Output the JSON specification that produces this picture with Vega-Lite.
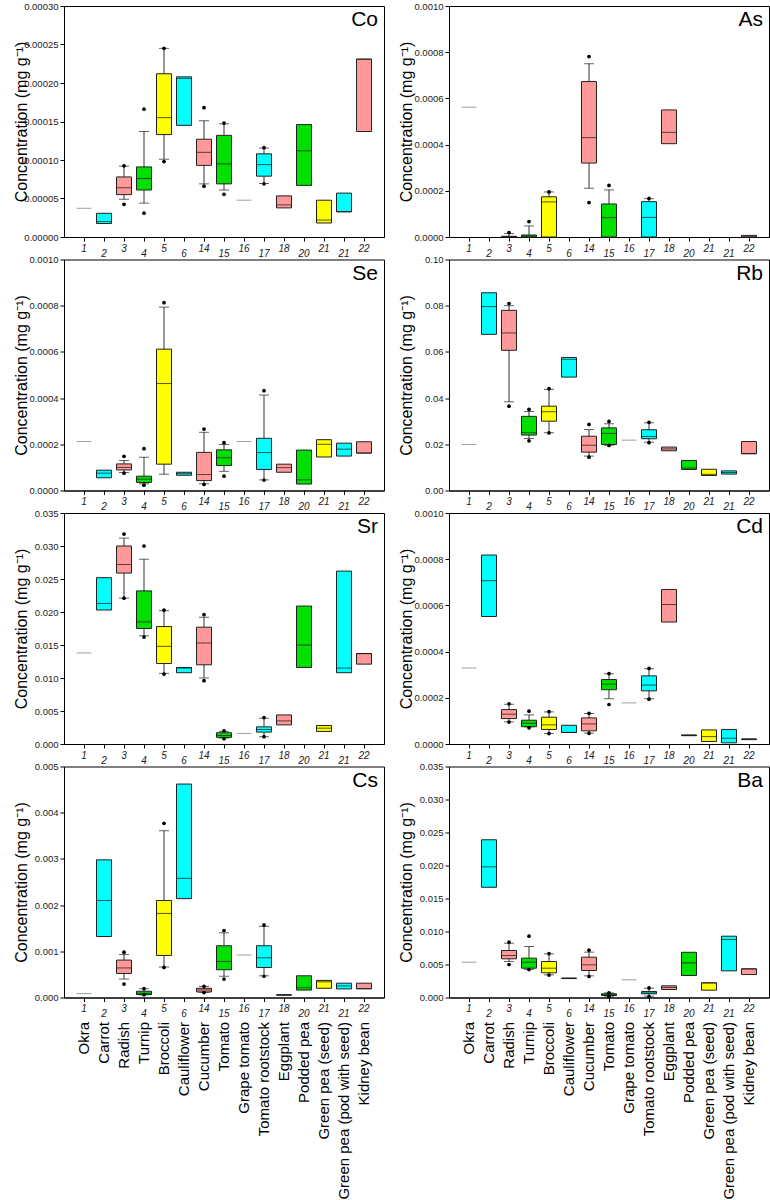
{
"$schema": "https://vega.github.io/schema/vega-lite/v6.json",
"padding": {"left": 12, "top": 0, "right": 0, "bottom": 0},
"datasets": {
"box": [
{"e":"Co","k":1,"g":"s","lo":0.0000373,"q1":0.0000373,"md":0.0000373,"q3":0.0000373,"hi":0.0000373},
{"e":"Co","k":2,"g":"c","lo":0.0000175,"q1":0.0000175,"md":0.00002,"q3":0.0000308,"hi":0.0000308},
{"e":"Co","k":3,"g":"p","lo":0.000049,"q1":0.000055,"md":0.000064,"q3":0.000078,"hi":0.000092},
{"e":"Co","k":4,"g":"g","lo":0.000044,"q1":0.000061,"md":0.000076,"q3":0.000091,"hi":0.000137},
{"e":"Co","k":5,"g":"y","lo":0.000101,"q1":0.000133,"md":0.000155,"q3":0.000212,"hi":0.000245},
{"e":"Co","k":6,"g":"c","lo":0.000145,"q1":0.000145,"md":0.000206,"q3":0.000208,"hi":0.000208},
{"e":"Co","k":7,"g":"p","lo":0.000069,"q1":0.000093,"md":0.00011,"q3":0.000127,"hi":0.000151},
{"e":"Co","k":8,"g":"g","lo":0.000061,"q1":0.000069,"md":0.000095,"q3":0.000132,"hi":0.000147},
{"e":"Co","k":9,"g":"s","lo":0.0000478,"q1":0.0000478,"md":0.0000478,"q3":0.0000478,"hi":0.0000478},
{"e":"Co","k":10,"g":"c","lo":0.0000695,"q1":0.000079,"md":0.000094,"q3":0.000108,"hi":0.0001155},
{"e":"Co","k":11,"g":"p","lo":0.0000378,"q1":0.0000378,"md":0.0000417,"q3":0.0000534,"hi":0.0000534},
{"e":"Co","k":12,"g":"g","lo":0.000067,"q1":0.000067,"md":0.000112,"q3":0.000146,"hi":0.000146},
{"e":"Co","k":13,"g":"y","lo":0.0000182,"q1":0.0000182,"md":0.000022,"q3":0.0000478,"hi":0.0000478},
{"e":"Co","k":14,"g":"c","lo":0.0000326,"q1":0.0000326,"md":0.000033,"q3":0.000057,"hi":0.000057},
{"e":"Co","k":15,"g":"p","lo":0.000137,"q1":0.000137,"md":0.000231,"q3":0.000231,"hi":0.000231},

{"e":"As","k":1,"g":"s","lo":0.000562,"q1":0.000562,"md":0.000562,"q3":0.000562,"hi":0.000562},
{"e":"As","k":3,"g":"p","lo":0,"q1":0,"md":0,"q3":0.000003,"hi":0.000015},
{"e":"As","k":4,"g":"g","lo":0,"q1":0,"md":0.000004,"q3":0.0000087,"hi":0.000048},
{"e":"As","k":5,"g":"y","lo":0,"q1":0,"md":0.000152,"q3":0.000174,"hi":0.000195},
{"e":"As","k":7,"g":"p","lo":0.000211,"q1":0.00032,"md":0.00043,"q3":0.000673,"hi":0.00075},
{"e":"As","k":8,"g":"g","lo":0,"q1":0,"md":0.000084,"q3":0.000143,"hi":0.000204},
{"e":"As","k":10,"g":"c","lo":0,"q1":0,"md":0.000085,"q3":0.000153,"hi":0.000166},
{"e":"As","k":11,"g":"p","lo":0.000404,"q1":0.000404,"md":0.000453,"q3":0.00055,"hi":0.00055},
{"e":"As","k":15,"g":"p","lo":0,"q1":0,"md":0,"q3":0.000007,"hi":0.000007},

{"e":"Se","k":1,"g":"s","lo":0.000212,"q1":0.000212,"md":0.000212,"q3":0.000212,"hi":0.000212},
{"e":"Se","k":2,"g":"c","lo":0.000055,"q1":0.000055,"md":0.000075,"q3":0.000088,"hi":0.000088},
{"e":"Se","k":3,"g":"p","lo":0.000078,"q1":0.000089,"md":0.0001,"q3":0.000115,"hi":0.00013},
{"e":"Se","k":4,"g":"g","lo":0.000029,"q1":0.000035,"md":0.000049,"q3":0.000062,"hi":0.000144},
{"e":"Se","k":5,"g":"y","lo":0.0000705,"q1":0.000114,"md":0.000463,"q3":0.000612,"hi":0.000794},
{"e":"Se","k":6,"g":"c","lo":0.000066,"q1":0.000066,"md":0.000073,"q3":0.000079,"hi":0.000079},
{"e":"Se","k":7,"g":"p","lo":0.000029,"q1":0.000043,"md":0.000069,"q3":0.000165,"hi":0.000252},
{"e":"Se","k":8,"g":"g","lo":0.000083,"q1":0.000108,"md":0.000142,"q3":0.000176,"hi":0.000199},
{"e":"Se","k":9,"g":"s","lo":0.000212,"q1":0.000212,"md":0.000212,"q3":0.000212,"hi":0.000212},
{"e":"Se","k":10,"g":"c","lo":0.000046,"q1":0.000091,"md":0.000164,"q3":0.000226,"hi":0.000413},
{"e":"Se","k":11,"g":"p","lo":0.000079,"q1":0.000079,"md":0.000099,"q3":0.000114,"hi":0.000114},
{"e":"Se","k":12,"g":"g","lo":0.000028,"q1":0.000028,"md":0.000046,"q3":0.000175,"hi":0.000175},
{"e":"Se","k":13,"g":"y","lo":0.000145,"q1":0.000145,"md":0.0002,"q3":0.00022,"hi":0.00022},
{"e":"Se","k":14,"g":"c","lo":0.000149,"q1":0.000149,"md":0.000179,"q3":0.000205,"hi":0.000205},
{"e":"Se","k":15,"g":"p","lo":0.000162,"q1":0.000162,"md":0.000162,"q3":0.000211,"hi":0.000211},

{"e":"Rb","k":1,"g":"s","lo":0.0199,"q1":0.0199,"md":0.0199,"q3":0.0199,"hi":0.0199},
{"e":"Rb","k":2,"g":"c","lo":0.0676,"q1":0.0676,"md":0.0796,"q3":0.0856,"hi":0.0856},
{"e":"Rb","k":3,"g":"p","lo":0.0384,"q1":0.0607,"md":0.0682,"q3":0.078,"hi":0.08},
{"e":"Rb","k":4,"g":"g","lo":0.0225,"q1":0.024,"md":0.025,"q3":0.0321,"hi":0.0342},
{"e":"Rb","k":5,"g":"y","lo":0.025,"q1":0.03,"md":0.0341,"q3":0.0365,"hi":0.0438},
{"e":"Rb","k":6,"g":"c","lo":0.0491,"q1":0.0491,"md":0.0568,"q3":0.0576,"hi":0.0576},
{"e":"Rb","k":7,"g":"p","lo":0.0149,"q1":0.0166,"md":0.0196,"q3":0.0235,"hi":0.0264},
{"e":"Rb","k":8,"g":"g","lo":0.0196,"q1":0.0199,"md":0.0247,"q3":0.0271,"hi":0.0289},
{"e":"Rb","k":9,"g":"s","lo":0.0218,"q1":0.0218,"md":0.0218,"q3":0.0218,"hi":0.0218},
{"e":"Rb","k":10,"g":"c","lo":0.0209,"q1":0.0224,"md":0.0234,"q3":0.0263,"hi":0.0293},
{"e":"Rb","k":11,"g":"p","lo":0.0172,"q1":0.0172,"md":0.018,"q3":0.0188,"hi":0.0188},
{"e":"Rb","k":12,"g":"g","lo":0.0091,"q1":0.0091,"md":0.0097,"q3":0.013,"hi":0.013},
{"e":"Rb","k":13,"g":"y","lo":0.0065,"q1":0.0065,"md":0.007,"q3":0.0092,"hi":0.0092},
{"e":"Rb","k":14,"g":"c","lo":0.0071,"q1":0.0071,"md":0.0078,"q3":0.0085,"hi":0.0085},
{"e":"Rb","k":15,"g":"p","lo":0.0159,"q1":0.0159,"md":0.016,"q3":0.0212,"hi":0.0212},

{"e":"Sr","k":1,"g":"s","lo":0.0138,"q1":0.0138,"md":0.0138,"q3":0.0138,"hi":0.0138},
{"e":"Sr","k":2,"g":"c","lo":0.0203,"q1":0.0203,"md":0.0213,"q3":0.0252,"hi":0.0252},
{"e":"Sr","k":3,"g":"p","lo":0.0221,"q1":0.0259,"md":0.0272,"q3":0.03,"hi":0.0312},
{"e":"Sr","k":4,"g":"g","lo":0.0164,"q1":0.0175,"md":0.0185,"q3":0.0232,"hi":0.028},
{"e":"Sr","k":5,"g":"y","lo":0.0107,"q1":0.0122,"md":0.0148,"q3":0.0178,"hi":0.0202},
{"e":"Sr","k":6,"g":"c","lo":0.0108,"q1":0.0108,"md":0.0115,"q3":0.0116,"hi":0.0116},
{"e":"Sr","k":7,"g":"p","lo":0.01,"q1":0.012,"md":0.0153,"q3":0.0177,"hi":0.0192},
{"e":"Sr","k":8,"g":"g","lo":0.0009,"q1":0.001,"md":0.0013,"q3":0.0017,"hi":0.0019},
{"e":"Sr","k":9,"g":"s","lo":0.0016,"q1":0.0016,"md":0.0016,"q3":0.0016,"hi":0.0016},
{"e":"Sr","k":10,"g":"c","lo":0.0011,"q1":0.0018,"md":0.0022,"q3":0.0026,"hi":0.0039},
{"e":"Sr","k":11,"g":"p","lo":0.0029,"q1":0.0029,"md":0.0035,"q3":0.0044,"hi":0.0044},
{"e":"Sr","k":12,"g":"g","lo":0.0116,"q1":0.0116,"md":0.015,"q3":0.0209,"hi":0.0209},
{"e":"Sr","k":13,"g":"y","lo":0.0019,"q1":0.0019,"md":0.0024,"q3":0.0028,"hi":0.0028},
{"e":"Sr","k":14,"g":"c","lo":0.0108,"q1":0.0108,"md":0.0115,"q3":0.0262,"hi":0.0262},
{"e":"Sr","k":15,"g":"p","lo":0.0121,"q1":0.0121,"md":0.0137,"q3":0.0137,"hi":0.0137},

{"e":"Cd","k":1,"g":"s","lo":0.000329,"q1":0.000329,"md":0.000329,"q3":0.000329,"hi":0.000329},
{"e":"Cd","k":2,"g":"c","lo":0.000552,"q1":0.000552,"md":0.000707,"q3":0.000818,"hi":0.000818},
{"e":"Cd","k":3,"g":"p","lo":0.000096,"q1":0.00011,"md":0.000129,"q3":0.000149,"hi":0.000172},
{"e":"Cd","k":4,"g":"g","lo":0.000074,"q1":0.000075,"md":0.00009,"q3":0.000103,"hi":0.000126},
{"e":"Cd","k":5,"g":"y","lo":0.000045,"q1":0.000063,"md":0.000083,"q3":0.000116,"hi":0.000139},
{"e":"Cd","k":6,"g":"c","lo":0.00005,"q1":0.00005,"md":0.00005,"q3":0.000081,"hi":0.000081},
{"e":"Cd","k":7,"g":"p","lo":0.000047,"q1":0.000057,"md":0.000087,"q3":0.000113,"hi":0.000132},
{"e":"Cd","k":8,"g":"g","lo":0.000196,"q1":0.000235,"md":0.000259,"q3":0.000279,"hi":0.000304},
{"e":"Cd","k":9,"g":"s","lo":0.000178,"q1":0.000178,"md":0.000178,"q3":0.000178,"hi":0.000178},
{"e":"Cd","k":10,"g":"c","lo":0.000196,"q1":0.00023,"md":0.000255,"q3":0.000295,"hi":0.000326},
{"e":"Cd","k":11,"g":"p","lo":0.000528,"q1":0.000528,"md":0.000604,"q3":0.000669,"hi":0.000669},
{"e":"Cd","k":12,"g":"g","lo":0.000036,"q1":0.000036,"md":0.000038,"q3":0.000039,"hi":0.000039},
{"e":"Cd","k":13,"g":"y","lo":0.000011,"q1":0.000011,"md":0.000032,"q3":0.000061,"hi":0.000061},
{"e":"Cd","k":14,"g":"c","lo":0.000005,"q1":0.000005,"md":0.000025,"q3":0.000063,"hi":0.000063},
{"e":"Cd","k":15,"g":"p","lo":0.000019,"q1":0.000019,"md":0.000021,"q3":0.000022,"hi":0.000022},

{"e":"Cs","k":1,"g":"s","lo":0.000085,"q1":0.000085,"md":0.000085,"q3":0.000085,"hi":0.000085},
{"e":"Cs","k":2,"g":"c","lo":0.00132,"q1":0.00132,"md":0.0021,"q3":0.00298,"hi":0.00298},
{"e":"Cs","k":3,"g":"p","lo":0.0004,"q1":0.00052,"md":0.00064,"q3":0.00081,"hi":0.00093},
{"e":"Cs","k":4,"g":"g","lo":0.00006,"q1":0.000063,"md":0.000092,"q3":0.000135,"hi":0.00019},
{"e":"Cs","k":5,"g":"y","lo":0.00066,"q1":0.00091,"md":0.00182,"q3":0.0021,"hi":0.00361},
{"e":"Cs","k":6,"g":"c","lo":0.00214,"q1":0.00214,"md":0.00258,"q3":0.00462,"hi":0.00462},
{"e":"Cs","k":7,"g":"p","lo":0.00011,"q1":0.00012,"md":0.000164,"q3":0.0002,"hi":0.00024},
{"e":"Cs","k":8,"g":"g","lo":0.00046,"q1":0.0006,"md":0.00078,"q3":0.00112,"hi":0.0014},
{"e":"Cs","k":9,"g":"s","lo":0.00092,"q1":0.00092,"md":0.00092,"q3":0.00092,"hi":0.00092},
{"e":"Cs","k":10,"g":"c","lo":0.00047,"q1":0.00065,"md":0.00086,"q3":0.00112,"hi":0.00154},
{"e":"Cs","k":11,"g":"p","lo":0.00005,"q1":0.00005,"md":0.000055,"q3":0.00006,"hi":0.00006},
{"e":"Cs","k":12,"g":"g","lo":0.00016,"q1":0.00016,"md":0.00021,"q3":0.00047,"hi":0.00047},
{"e":"Cs","k":13,"g":"y","lo":0.0002,"q1":0.0002,"md":0.00034,"q3":0.00037,"hi":0.00037},
{"e":"Cs","k":14,"g":"c","lo":0.000186,"q1":0.000186,"md":0.00025,"q3":0.00031,"hi":0.00031},
{"e":"Cs","k":15,"g":"p","lo":0.00019,"q1":0.00019,"md":0.00019,"q3":0.00031,"hi":0.00031},

{"e":"Ba","k":1,"g":"s","lo":0.00535,"q1":0.00535,"md":0.00535,"q3":0.00535,"hi":0.00535},
{"e":"Ba","k":2,"g":"c","lo":0.0167,"q1":0.0167,"md":0.0198,"q3":0.0239,"hi":0.0239},
{"e":"Ba","k":3,"g":"p","lo":0.00545,"q1":0.00586,"md":0.00636,"q3":0.00712,"hi":0.00823},
{"e":"Ba","k":4,"g":"g","lo":0.00424,"q1":0.00444,"md":0.00535,"q3":0.00596,"hi":0.00773},
{"e":"Ba","k":5,"g":"y","lo":0.00343,"q1":0.00374,"md":0.00444,"q3":0.00545,"hi":0.00662},
{"e":"Ba","k":6,"g":"c","lo":0.00287,"q1":0.00287,"md":0.00293,"q3":0.00293,"hi":0.00293},
{"e":"Ba","k":7,"g":"p","lo":0.00328,"q1":0.00409,"md":0.00495,"q3":0.00611,"hi":0.00687},
{"e":"Ba","k":8,"g":"g","lo":0.0002,"q1":0.0003,"md":0.00043,"q3":0.00056,"hi":0.0007},
{"e":"Ba","k":9,"g":"s","lo":0.00268,"q1":0.00268,"md":0.00268,"q3":0.00268,"hi":0.00268},
{"e":"Ba","k":10,"g":"c","lo":0.0002,"q1":0.00056,"md":0.0007,"q3":0.00091,"hi":0.00141},
{"e":"Ba","k":11,"g":"p","lo":0.00121,"q1":0.00121,"md":0.00152,"q3":0.00177,"hi":0.00177},
{"e":"Ba","k":12,"g":"g","lo":0.00333,"q1":0.00333,"md":0.00525,"q3":0.00685,"hi":0.00685},
{"e":"Ba","k":13,"g":"y","lo":0.00111,"q1":0.00111,"md":0.00222,"q3":0.00222,"hi":0.00222},
{"e":"Ba","k":14,"g":"c","lo":0.00404,"q1":0.00404,"md":0.00879,"q3":0.00929,"hi":0.00929},
{"e":"Ba","k":15,"g":"p","lo":0.00348,"q1":0.00348,"md":0.00434,"q3":0.00434,"hi":0.00434}
],
"pts": [
{"e":"Co","k":3,"v":0.0000925},{"e":"Co","k":3,"v":0.0000425},{"e":"Co","k":4,"v":0.000166},{"e":"Co","k":4,"v":0.000031},{"e":"Co","k":5,"v":0.000245},{"e":"Co","k":5,"v":0.000098},{"e":"Co","k":7,"v":0.000168},{"e":"Co","k":7,"v":0.000066},{"e":"Co","k":8,"v":0.000148},{"e":"Co","k":8,"v":0.0000555},{"e":"Co","k":10,"v":0.000116},{"e":"Co","k":10,"v":0.000069},
{"e":"As","k":3,"v":0.000019},{"e":"As","k":4,"v":0.000067},{"e":"As","k":5,"v":0.000195},{"e":"As","k":7,"v":0.000781},{"e":"As","k":7,"v":0.000149},{"e":"As","k":8,"v":0.000223},{"e":"As","k":10,"v":0.000167},
{"e":"Se","k":3,"v":0.000148},{"e":"Se","k":3,"v":0.000075},{"e":"Se","k":4,"v":0.000181},{"e":"Se","k":4,"v":0.000023},{"e":"Se","k":5,"v":0.000813},{"e":"Se","k":7,"v":0.000266},{"e":"Se","k":7,"v":0.000026},{"e":"Se","k":8,"v":0.000207},{"e":"Se","k":8,"v":0.000062},{"e":"Se","k":10,"v":0.000432},{"e":"Se","k":10,"v":0.000045},
{"e":"Rb","k":3,"v":0.0809},{"e":"Rb","k":3,"v":0.0365},{"e":"Rb","k":4,"v":0.0351},{"e":"Rb","k":4,"v":0.0215},{"e":"Rb","k":5,"v":0.0441},{"e":"Rb","k":5,"v":0.0249},{"e":"Rb","k":7,"v":0.0286},{"e":"Rb","k":7,"v":0.0144},{"e":"Rb","k":8,"v":0.0299},{"e":"Rb","k":8,"v":0.0195},{"e":"Rb","k":10,"v":0.0295},{"e":"Rb","k":10,"v":0.0207},
{"e":"Sr","k":3,"v":0.0318},{"e":"Sr","k":3,"v":0.0221},{"e":"Sr","k":4,"v":0.03},{"e":"Sr","k":4,"v":0.0162},{"e":"Sr","k":5,"v":0.0203},{"e":"Sr","k":5,"v":0.0106},{"e":"Sr","k":7,"v":0.0196},{"e":"Sr","k":7,"v":0.0096},{"e":"Sr","k":8,"v":0.002},{"e":"Sr","k":8,"v":0.0008},{"e":"Sr","k":10,"v":0.004},{"e":"Sr","k":10,"v":0.0011},
{"e":"Cd","k":3,"v":0.000174},{"e":"Cd","k":3,"v":0.000095},{"e":"Cd","k":4,"v":0.000142},{"e":"Cd","k":4,"v":0.00007},{"e":"Cd","k":5,"v":0.00014},{"e":"Cd","k":5,"v":0.000045},{"e":"Cd","k":7,"v":0.000133},{"e":"Cd","k":7,"v":0.000046},{"e":"Cd","k":8,"v":0.000305},{"e":"Cd","k":8,"v":0.000171},{"e":"Cd","k":10,"v":0.000327},{"e":"Cd","k":10,"v":0.000194},
{"e":"Cs","k":3,"v":0.00098},{"e":"Cs","k":3,"v":0.00029},{"e":"Cs","k":4,"v":0.00019},{"e":"Cs","k":4,"v":0.00006},{"e":"Cs","k":5,"v":0.00377},{"e":"Cs","k":5,"v":0.00065},{"e":"Cs","k":7,"v":0.000243},{"e":"Cs","k":7,"v":0.000106},{"e":"Cs","k":8,"v":0.00145},{"e":"Cs","k":8,"v":0.0004},{"e":"Cs","k":10,"v":0.00157},{"e":"Cs","k":10,"v":0.00046},
{"e":"Ba","k":3,"v":0.00838},{"e":"Ba","k":3,"v":0.005},{"e":"Ba","k":4,"v":0.00929},{"e":"Ba","k":4,"v":0.00424},{"e":"Ba","k":5,"v":0.00665},{"e":"Ba","k":5,"v":0.0034},{"e":"Ba","k":7,"v":0.00717},{"e":"Ba","k":7,"v":0.0032},{"e":"Ba","k":8,"v":0.00072},{"e":"Ba","k":8,"v":0.00015},{"e":"Ba","k":10,"v":0.00145},{"e":"Ba","k":10,"v":0.00015}
]
},
"columns": 2,
"spacing": {"row": 22.5, "column": 65},
"bounds": "flush",
"resolve": {"scale": {"x": "independent", "y": "independent"}},
"concat": [
{"width": 320, "height": 231, "title": {"text": "Co"},
 "layer": [
  {"data": {"name": "box"}, "transform": [{"filter": "datum.e=='Co'"}],
   "encoding": {"x": {"field": "k", "type": "ordinal", "scale": {"domain": [1,2,3,4,5,6,7,8,9,10,11,12,13,14,15], "paddingInner": 0, "paddingOuter": 0.5},
     "axis": {"title": null, "labelAngle": 0, "labelExpr": "datum.value % 2 == 0 ? ['', ['1','2','3','4','5','6','14','15','16','17','18','20','21','21','22'][datum.value-1]] : ['1','2','3','4','5','6','14','15','16','17','18','20','21','21','22'][datum.value-1]", "labelLineHeight": 5, "labelFontStyle": "italic", "labelFontSize": 10, "labelColor": "#222", "tickSize": 4, "labelPadding": 2, "labelOverlap": false}}},
   "layer": [
    {"mark": {"type": "rule", "color": "#333"}, "encoding": {"y": {"field": "lo", "type": "quantitative", "scale": {"domain": [0, 0.0003], "nice": false}, "axis": {"title": "Concentration (mg g⁻¹)", "values": [0, 0.00005, 0.0001, 0.00015, 0.0002, 0.00025, 0.0003], "tickCount": 20, "format": ".5f", "labelOverlap": false}}, "y2": {"field": "hi"}}},
    {"transform": [{"filter": "datum.lo < datum.q1"}], "mark": {"type": "tick", "color": "#222", "size": 10, "thickness": 1}, "encoding": {"y": {"field": "lo", "type": "quantitative"}}},
    {"transform": [{"filter": "datum.hi > datum.q3"}], "mark": {"type": "tick", "color": "#222", "size": 10, "thickness": 1}, "encoding": {"y": {"field": "hi", "type": "quantitative"}}},
    {"transform": [{"filter": "datum.g != 's'"}], "mark": {"type": "bar", "width": 15, "stroke": "#222", "strokeWidth": 1}, "encoding": {"y": {"field": "q1", "type": "quantitative"}, "y2": {"field": "q3"}, "color": {"field": "g", "type": "nominal", "scale": {"domain": ["c","p","g","y"], "range": ["#00FFFF","#FF9999","#00E000","#FFFF00"]}, "legend": null}}},
    {"mark": {"type": "tick", "size": 15, "thickness": 1}, "encoding": {"y": {"field": "md", "type": "quantitative"}, "color": {"condition": {"test": "datum.g=='s'", "value": "#777"}, "value": "#111"}}}
   ]},
  {"data": {"name": "pts"}, "transform": [{"filter": "datum.e=='Co'"}], "mark": {"type": "point", "filled": true, "color": "#000", "size": 14, "opacity": 1}, "encoding": {"x": {"field": "k", "type": "ordinal"}, "y": {"field": "v", "type": "quantitative"}}}
 ]},
{"width": 320, "height": 231, "title": {"text": "As"},
 "layer": [
  {"data": {"name": "box"}, "transform": [{"filter": "datum.e=='As'"}],
   "encoding": {"x": {"field": "k", "type": "ordinal", "scale": {"domain": [1,2,3,4,5,6,7,8,9,10,11,12,13,14,15], "paddingInner": 0, "paddingOuter": 0.5},
     "axis": {"title": null, "labelAngle": 0, "labelExpr": "datum.value % 2 == 0 ? ['', ['1','2','3','4','5','6','14','15','16','17','18','20','21','21','22'][datum.value-1]] : ['1','2','3','4','5','6','14','15','16','17','18','20','21','21','22'][datum.value-1]", "labelLineHeight": 5, "labelFontStyle": "italic", "labelFontSize": 10, "labelColor": "#222", "tickSize": 4, "labelPadding": 2, "labelOverlap": false}}},
   "layer": [
    {"mark": {"type": "rule", "color": "#333"}, "encoding": {"y": {"field": "lo", "type": "quantitative", "scale": {"domain": [0, 0.001], "nice": false}, "axis": {"title": "Concentration (mg g⁻¹)", "values": [0, 0.0002, 0.0004, 0.0006, 0.0008, 0.001], "tickCount": 20, "format": ".4f", "labelOverlap": false}}, "y2": {"field": "hi"}}},
    {"transform": [{"filter": "datum.lo < datum.q1"}], "mark": {"type": "tick", "color": "#222", "size": 10, "thickness": 1}, "encoding": {"y": {"field": "lo", "type": "quantitative"}}},
    {"transform": [{"filter": "datum.hi > datum.q3"}], "mark": {"type": "tick", "color": "#222", "size": 10, "thickness": 1}, "encoding": {"y": {"field": "hi", "type": "quantitative"}}},
    {"transform": [{"filter": "datum.g != 's'"}], "mark": {"type": "bar", "width": 15, "stroke": "#222", "strokeWidth": 1}, "encoding": {"y": {"field": "q1", "type": "quantitative"}, "y2": {"field": "q3"}, "color": {"field": "g", "type": "nominal", "scale": {"domain": ["c","p","g","y"], "range": ["#00FFFF","#FF9999","#00E000","#FFFF00"]}, "legend": null}}},
    {"mark": {"type": "tick", "size": 15, "thickness": 1}, "encoding": {"y": {"field": "md", "type": "quantitative"}, "color": {"condition": {"test": "datum.g=='s'", "value": "#777"}, "value": "#111"}}}
   ]},
  {"data": {"name": "pts"}, "transform": [{"filter": "datum.e=='As'"}], "mark": {"type": "point", "filled": true, "color": "#000", "size": 14, "opacity": 1}, "encoding": {"x": {"field": "k", "type": "ordinal"}, "y": {"field": "v", "type": "quantitative"}}}
 ]},
{"width": 320, "height": 231, "title": {"text": "Se"},
 "layer": [
  {"data": {"name": "box"}, "transform": [{"filter": "datum.e=='Se'"}],
   "encoding": {"x": {"field": "k", "type": "ordinal", "scale": {"domain": [1,2,3,4,5,6,7,8,9,10,11,12,13,14,15], "paddingInner": 0, "paddingOuter": 0.5},
     "axis": {"title": null, "labelAngle": 0, "labelExpr": "datum.value % 2 == 0 ? ['', ['1','2','3','4','5','6','14','15','16','17','18','20','21','21','22'][datum.value-1]] : ['1','2','3','4','5','6','14','15','16','17','18','20','21','21','22'][datum.value-1]", "labelLineHeight": 5, "labelFontStyle": "italic", "labelFontSize": 10, "labelColor": "#222", "tickSize": 4, "labelPadding": 2, "labelOverlap": false}}},
   "layer": [
    {"mark": {"type": "rule", "color": "#333"}, "encoding": {"y": {"field": "lo", "type": "quantitative", "scale": {"domain": [0, 0.001], "nice": false}, "axis": {"title": "Concentration (mg g⁻¹)", "values": [0, 0.0002, 0.0004, 0.0006, 0.0008, 0.001], "tickCount": 20, "format": ".4f", "labelOverlap": false}}, "y2": {"field": "hi"}}},
    {"transform": [{"filter": "datum.lo < datum.q1"}], "mark": {"type": "tick", "color": "#222", "size": 10, "thickness": 1}, "encoding": {"y": {"field": "lo", "type": "quantitative"}}},
    {"transform": [{"filter": "datum.hi > datum.q3"}], "mark": {"type": "tick", "color": "#222", "size": 10, "thickness": 1}, "encoding": {"y": {"field": "hi", "type": "quantitative"}}},
    {"transform": [{"filter": "datum.g != 's'"}], "mark": {"type": "bar", "width": 15, "stroke": "#222", "strokeWidth": 1}, "encoding": {"y": {"field": "q1", "type": "quantitative"}, "y2": {"field": "q3"}, "color": {"field": "g", "type": "nominal", "scale": {"domain": ["c","p","g","y"], "range": ["#00FFFF","#FF9999","#00E000","#FFFF00"]}, "legend": null}}},
    {"mark": {"type": "tick", "size": 15, "thickness": 1}, "encoding": {"y": {"field": "md", "type": "quantitative"}, "color": {"condition": {"test": "datum.g=='s'", "value": "#777"}, "value": "#111"}}}
   ]},
  {"data": {"name": "pts"}, "transform": [{"filter": "datum.e=='Se'"}], "mark": {"type": "point", "filled": true, "color": "#000", "size": 14, "opacity": 1}, "encoding": {"x": {"field": "k", "type": "ordinal"}, "y": {"field": "v", "type": "quantitative"}}}
 ]},
{"width": 320, "height": 231, "title": {"text": "Rb"},
 "layer": [
  {"data": {"name": "box"}, "transform": [{"filter": "datum.e=='Rb'"}],
   "encoding": {"x": {"field": "k", "type": "ordinal", "scale": {"domain": [1,2,3,4,5,6,7,8,9,10,11,12,13,14,15], "paddingInner": 0, "paddingOuter": 0.5},
     "axis": {"title": null, "labelAngle": 0, "labelExpr": "datum.value % 2 == 0 ? ['', ['1','2','3','4','5','6','14','15','16','17','18','20','21','21','22'][datum.value-1]] : ['1','2','3','4','5','6','14','15','16','17','18','20','21','21','22'][datum.value-1]", "labelLineHeight": 5, "labelFontStyle": "italic", "labelFontSize": 10, "labelColor": "#222", "tickSize": 4, "labelPadding": 2, "labelOverlap": false}}},
   "layer": [
    {"mark": {"type": "rule", "color": "#333"}, "encoding": {"y": {"field": "lo", "type": "quantitative", "scale": {"domain": [0, 0.1], "nice": false}, "axis": {"title": "Concentration (mg g⁻¹)", "values": [0, 0.02, 0.04, 0.06, 0.08, 0.1], "tickCount": 20, "format": ".2f", "labelOverlap": false}}, "y2": {"field": "hi"}}},
    {"transform": [{"filter": "datum.lo < datum.q1"}], "mark": {"type": "tick", "color": "#222", "size": 10, "thickness": 1}, "encoding": {"y": {"field": "lo", "type": "quantitative"}}},
    {"transform": [{"filter": "datum.hi > datum.q3"}], "mark": {"type": "tick", "color": "#222", "size": 10, "thickness": 1}, "encoding": {"y": {"field": "hi", "type": "quantitative"}}},
    {"transform": [{"filter": "datum.g != 's'"}], "mark": {"type": "bar", "width": 15, "stroke": "#222", "strokeWidth": 1}, "encoding": {"y": {"field": "q1", "type": "quantitative"}, "y2": {"field": "q3"}, "color": {"field": "g", "type": "nominal", "scale": {"domain": ["c","p","g","y"], "range": ["#00FFFF","#FF9999","#00E000","#FFFF00"]}, "legend": null}}},
    {"mark": {"type": "tick", "size": 15, "thickness": 1}, "encoding": {"y": {"field": "md", "type": "quantitative"}, "color": {"condition": {"test": "datum.g=='s'", "value": "#777"}, "value": "#111"}}}
   ]},
  {"data": {"name": "pts"}, "transform": [{"filter": "datum.e=='Rb'"}], "mark": {"type": "point", "filled": true, "color": "#000", "size": 14, "opacity": 1}, "encoding": {"x": {"field": "k", "type": "ordinal"}, "y": {"field": "v", "type": "quantitative"}}}
 ]},
{"width": 320, "height": 231, "title": {"text": "Sr"},
 "layer": [
  {"data": {"name": "box"}, "transform": [{"filter": "datum.e=='Sr'"}],
   "encoding": {"x": {"field": "k", "type": "ordinal", "scale": {"domain": [1,2,3,4,5,6,7,8,9,10,11,12,13,14,15], "paddingInner": 0, "paddingOuter": 0.5},
     "axis": {"title": null, "labelAngle": 0, "labelExpr": "datum.value % 2 == 0 ? ['', ['1','2','3','4','5','6','14','15','16','17','18','20','21','21','22'][datum.value-1]] : ['1','2','3','4','5','6','14','15','16','17','18','20','21','21','22'][datum.value-1]", "labelLineHeight": 5, "labelFontStyle": "italic", "labelFontSize": 10, "labelColor": "#222", "tickSize": 4, "labelPadding": 2, "labelOverlap": false}}},
   "layer": [
    {"mark": {"type": "rule", "color": "#333"}, "encoding": {"y": {"field": "lo", "type": "quantitative", "scale": {"domain": [0, 0.035], "nice": false}, "axis": {"title": "Concentration (mg g⁻¹)", "values": [0, 0.005, 0.01, 0.015, 0.02, 0.025, 0.03, 0.035], "tickCount": 20, "format": ".3f", "labelOverlap": false}}, "y2": {"field": "hi"}}},
    {"transform": [{"filter": "datum.lo < datum.q1"}], "mark": {"type": "tick", "color": "#222", "size": 10, "thickness": 1}, "encoding": {"y": {"field": "lo", "type": "quantitative"}}},
    {"transform": [{"filter": "datum.hi > datum.q3"}], "mark": {"type": "tick", "color": "#222", "size": 10, "thickness": 1}, "encoding": {"y": {"field": "hi", "type": "quantitative"}}},
    {"transform": [{"filter": "datum.g != 's'"}], "mark": {"type": "bar", "width": 15, "stroke": "#222", "strokeWidth": 1}, "encoding": {"y": {"field": "q1", "type": "quantitative"}, "y2": {"field": "q3"}, "color": {"field": "g", "type": "nominal", "scale": {"domain": ["c","p","g","y"], "range": ["#00FFFF","#FF9999","#00E000","#FFFF00"]}, "legend": null}}},
    {"mark": {"type": "tick", "size": 15, "thickness": 1}, "encoding": {"y": {"field": "md", "type": "quantitative"}, "color": {"condition": {"test": "datum.g=='s'", "value": "#777"}, "value": "#111"}}}
   ]},
  {"data": {"name": "pts"}, "transform": [{"filter": "datum.e=='Sr'"}], "mark": {"type": "point", "filled": true, "color": "#000", "size": 14, "opacity": 1}, "encoding": {"x": {"field": "k", "type": "ordinal"}, "y": {"field": "v", "type": "quantitative"}}}
 ]},
{"width": 320, "height": 231, "title": {"text": "Cd"},
 "layer": [
  {"data": {"name": "box"}, "transform": [{"filter": "datum.e=='Cd'"}],
   "encoding": {"x": {"field": "k", "type": "ordinal", "scale": {"domain": [1,2,3,4,5,6,7,8,9,10,11,12,13,14,15], "paddingInner": 0, "paddingOuter": 0.5},
     "axis": {"title": null, "labelAngle": 0, "labelExpr": "datum.value % 2 == 0 ? ['', ['1','2','3','4','5','6','14','15','16','17','18','20','21','21','22'][datum.value-1]] : ['1','2','3','4','5','6','14','15','16','17','18','20','21','21','22'][datum.value-1]", "labelLineHeight": 5, "labelFontStyle": "italic", "labelFontSize": 10, "labelColor": "#222", "tickSize": 4, "labelPadding": 2, "labelOverlap": false}}},
   "layer": [
    {"mark": {"type": "rule", "color": "#333"}, "encoding": {"y": {"field": "lo", "type": "quantitative", "scale": {"domain": [0, 0.001], "nice": false}, "axis": {"title": "Concentration (mg g⁻¹)", "values": [0, 0.0002, 0.0004, 0.0006, 0.0008, 0.001], "tickCount": 20, "format": ".4f", "labelOverlap": false}}, "y2": {"field": "hi"}}},
    {"transform": [{"filter": "datum.lo < datum.q1"}], "mark": {"type": "tick", "color": "#222", "size": 10, "thickness": 1}, "encoding": {"y": {"field": "lo", "type": "quantitative"}}},
    {"transform": [{"filter": "datum.hi > datum.q3"}], "mark": {"type": "tick", "color": "#222", "size": 10, "thickness": 1}, "encoding": {"y": {"field": "hi", "type": "quantitative"}}},
    {"transform": [{"filter": "datum.g != 's'"}], "mark": {"type": "bar", "width": 15, "stroke": "#222", "strokeWidth": 1}, "encoding": {"y": {"field": "q1", "type": "quantitative"}, "y2": {"field": "q3"}, "color": {"field": "g", "type": "nominal", "scale": {"domain": ["c","p","g","y"], "range": ["#00FFFF","#FF9999","#00E000","#FFFF00"]}, "legend": null}}},
    {"mark": {"type": "tick", "size": 15, "thickness": 1}, "encoding": {"y": {"field": "md", "type": "quantitative"}, "color": {"condition": {"test": "datum.g=='s'", "value": "#777"}, "value": "#111"}}}
   ]},
  {"data": {"name": "pts"}, "transform": [{"filter": "datum.e=='Cd'"}], "mark": {"type": "point", "filled": true, "color": "#000", "size": 14, "opacity": 1}, "encoding": {"x": {"field": "k", "type": "ordinal"}, "y": {"field": "v", "type": "quantitative"}}}
 ]},
{"width": 320, "height": 231, "title": {"text": "Cs"},
 "resolve": {"axis": {"x": "independent"}},
 "layer": [
  {"layer": [
  {"data": {"name": "box"}, "transform": [{"filter": "datum.e=='Cs'"}],
   "encoding": {"x": {"field": "k", "type": "ordinal", "scale": {"domain": [1,2,3,4,5,6,7,8,9,10,11,12,13,14,15], "paddingInner": 0, "paddingOuter": 0.5},
     "axis": {"title": null, "labelAngle": 0, "labelExpr": "datum.value % 2 == 0 ? ['', ['1','2','3','4','5','6','14','15','16','17','18','20','21','21','22'][datum.value-1]] : ['1','2','3','4','5','6','14','15','16','17','18','20','21','21','22'][datum.value-1]", "labelLineHeight": 5, "labelFontStyle": "italic", "labelFontSize": 10, "labelColor": "#222", "tickSize": 4, "labelPadding": 2, "labelOverlap": false}}},
   "layer": [
    {"mark": {"type": "rule", "color": "#333"}, "encoding": {"y": {"field": "lo", "type": "quantitative", "scale": {"domain": [0, 0.005], "nice": false}, "axis": {"title": "Concentration (mg g⁻¹)", "values": [0, 0.001, 0.002, 0.003, 0.004, 0.005], "tickCount": 20, "format": ".3f", "labelOverlap": false}}, "y2": {"field": "hi"}}},
    {"transform": [{"filter": "datum.lo < datum.q1"}], "mark": {"type": "tick", "color": "#222", "size": 10, "thickness": 1}, "encoding": {"y": {"field": "lo", "type": "quantitative"}}},
    {"transform": [{"filter": "datum.hi > datum.q3"}], "mark": {"type": "tick", "color": "#222", "size": 10, "thickness": 1}, "encoding": {"y": {"field": "hi", "type": "quantitative"}}},
    {"transform": [{"filter": "datum.g != 's'"}], "mark": {"type": "bar", "width": 15, "stroke": "#222", "strokeWidth": 1}, "encoding": {"y": {"field": "q1", "type": "quantitative"}, "y2": {"field": "q3"}, "color": {"field": "g", "type": "nominal", "scale": {"domain": ["c","p","g","y"], "range": ["#00FFFF","#FF9999","#00E000","#FFFF00"]}, "legend": null}}},
    {"mark": {"type": "tick", "size": 15, "thickness": 1}, "encoding": {"y": {"field": "md", "type": "quantitative"}, "color": {"condition": {"test": "datum.g=='s'", "value": "#777"}, "value": "#111"}}}
   ]},
  {"data": {"name": "pts"}, "transform": [{"filter": "datum.e=='Cs'"}], "mark": {"type": "point", "filled": true, "color": "#000", "size": 14, "opacity": 1}, "encoding": {"x": {"field": "k", "type": "ordinal"}, "y": {"field": "v", "type": "quantitative"}}}
  ]},
  {"data": {"name": "box"}, "transform": [{"filter": "datum.e=='Cs'"}], "mark": {"type": "tick", "opacity": 0},
   "encoding": {"x": {"field": "k", "type": "ordinal", "axis": {"orient": "bottom", "offset": 22, "title": null, "labelExpr": "['Okra','Carrot','Radish','Turnip','Broccoli','Cauliflower','Cucumber','Tomato','Grape tomato','Tomato rootstock','Eggplant','Podded pea','Green pea (seed)','Green pea (pod with seed)','Kidney bean'][datum.value-1]", "labelAngle": -90, "labelFontSize": 15, "labelColor": "#000", "ticks": false, "tickSize": 0, "domain": false, "labelPadding": 2, "labelLimit": 300, "labelOverlap": false}}}}
 ]},
{"width": 320, "height": 231, "title": {"text": "Ba"},
 "resolve": {"axis": {"x": "independent"}},
 "layer": [
  {"layer": [
  {"data": {"name": "box"}, "transform": [{"filter": "datum.e=='Ba'"}],
   "encoding": {"x": {"field": "k", "type": "ordinal", "scale": {"domain": [1,2,3,4,5,6,7,8,9,10,11,12,13,14,15], "paddingInner": 0, "paddingOuter": 0.5},
     "axis": {"title": null, "labelAngle": 0, "labelExpr": "datum.value % 2 == 0 ? ['', ['1','2','3','4','5','6','14','15','16','17','18','20','21','21','22'][datum.value-1]] : ['1','2','3','4','5','6','14','15','16','17','18','20','21','21','22'][datum.value-1]", "labelLineHeight": 5, "labelFontStyle": "italic", "labelFontSize": 10, "labelColor": "#222", "tickSize": 4, "labelPadding": 2, "labelOverlap": false}}},
   "layer": [
    {"mark": {"type": "rule", "color": "#333"}, "encoding": {"y": {"field": "lo", "type": "quantitative", "scale": {"domain": [0, 0.035], "nice": false}, "axis": {"title": "Concentration (mg g⁻¹)", "values": [0, 0.005, 0.01, 0.015, 0.02, 0.025, 0.03, 0.035], "tickCount": 20, "format": ".3f", "labelOverlap": false}}, "y2": {"field": "hi"}}},
    {"transform": [{"filter": "datum.lo < datum.q1"}], "mark": {"type": "tick", "color": "#222", "size": 10, "thickness": 1}, "encoding": {"y": {"field": "lo", "type": "quantitative"}}},
    {"transform": [{"filter": "datum.hi > datum.q3"}], "mark": {"type": "tick", "color": "#222", "size": 10, "thickness": 1}, "encoding": {"y": {"field": "hi", "type": "quantitative"}}},
    {"transform": [{"filter": "datum.g != 's'"}], "mark": {"type": "bar", "width": 15, "stroke": "#222", "strokeWidth": 1}, "encoding": {"y": {"field": "q1", "type": "quantitative"}, "y2": {"field": "q3"}, "color": {"field": "g", "type": "nominal", "scale": {"domain": ["c","p","g","y"], "range": ["#00FFFF","#FF9999","#00E000","#FFFF00"]}, "legend": null}}},
    {"mark": {"type": "tick", "size": 15, "thickness": 1}, "encoding": {"y": {"field": "md", "type": "quantitative"}, "color": {"condition": {"test": "datum.g=='s'", "value": "#777"}, "value": "#111"}}}
   ]},
  {"data": {"name": "pts"}, "transform": [{"filter": "datum.e=='Ba'"}], "mark": {"type": "point", "filled": true, "color": "#000", "size": 14, "opacity": 1}, "encoding": {"x": {"field": "k", "type": "ordinal"}, "y": {"field": "v", "type": "quantitative"}}}
  ]},
  {"data": {"name": "box"}, "transform": [{"filter": "datum.e=='Ba'"}], "mark": {"type": "tick", "opacity": 0},
   "encoding": {"x": {"field": "k", "type": "ordinal", "axis": {"orient": "bottom", "offset": 22, "title": null, "labelExpr": "['Okra','Carrot','Radish','Turnip','Broccoli','Cauliflower','Cucumber','Tomato','Grape tomato','Tomato rootstock','Eggplant','Podded pea','Green pea (seed)','Green pea (pod with seed)','Kidney bean'][datum.value-1]", "labelAngle": -90, "labelFontSize": 15, "labelColor": "#000", "ticks": false, "tickSize": 0, "domain": false, "labelPadding": 2, "labelLimit": 300, "labelOverlap": false}}}}
 ]}
],
"config": {
 "view": {"stroke": "#000", "strokeWidth": 1},
 "font": "Liberation Sans",
 "axis": {"grid": false, "domainColor": "#000", "tickColor": "#000", "labelFont": "Liberation Sans", "titleFont": "Liberation Sans", "labelColor": "#222", "titleColor": "#000"},
 "axisY": {"labelFontSize": 9.5, "tickSize": 4, "labelPadding": 2, "labelOverlap": false, "titleFontSize": 16, "titleFontWeight": "normal", "titleX": -35},
 "title": {"anchor": "end", "frame": "group", "offset": -29, "baseline": "alphabetic", "fontSize": 21, "fontWeight": "normal", "font": "Liberation Sans", "dx": -6, "color": "#000"}
}
}
